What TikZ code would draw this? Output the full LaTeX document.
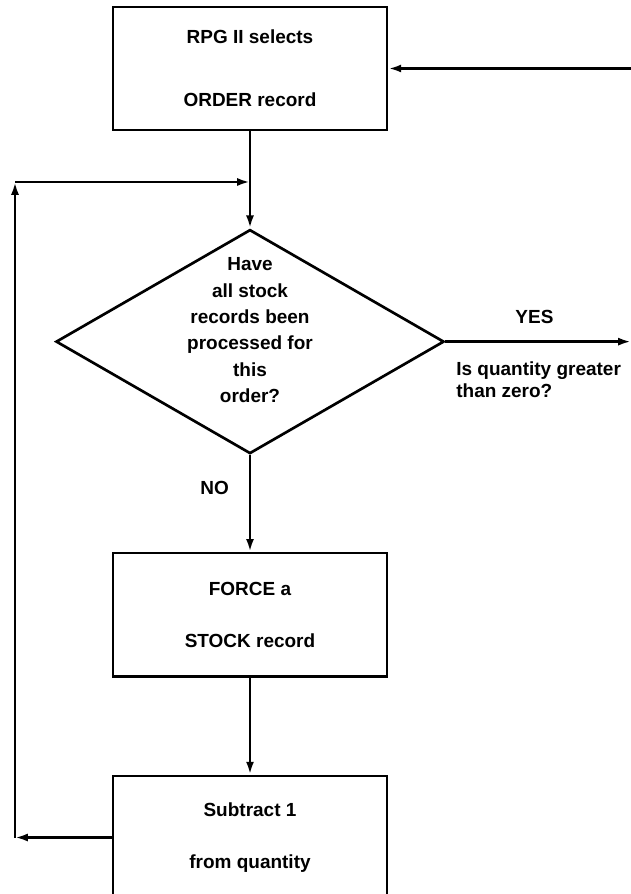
\documentclass[tikz,border=0pt]{standalone}
\usepackage{fontspec}
\setmainfont{Liberation Sans}
\usetikzlibrary{arrows.meta, positioning, shapes.geometric}

\begin{document}
\begin{tikzpicture}[x=0.025cm, y=0.025cm,
    block/.style={draw, line width=1.9pt, minimum width=6.85cm, minimum height=3.08cm, align=center, font=\fontsize{13.5}{15.5}\selectfont\bfseries},
    decision/.style={draw, diamond, shape aspect=1.73, line width=1.9pt, minimum width=9.7cm, minimum height=5.6cm, inner sep=0pt, font=\fontsize{13.5}{18.7}\selectfont\bfseries},
    arrow/.style={-{Latex[length=3.2mm, width=2mm]}, line width=1.9pt},
    lbl/.style={font=\fontsize{13.5}{15.6}\selectfont\bfseries},
    node distance=2.42cm
]
    \useasboundingbox (0,0) rectangle (631,894);
    \clip (0,0) rectangle (631,894);
    \coordinate (lft) at (15,712);
    \coordinate (rgt) at (631,0);

    \node[block] (select) at (250,825.5) {RPG II selects\\[29pt]ORDER record};
    \node[decision, below=of select] (done) {\smash{\raisebox{3.7pt}{\begin{tabular}{@{}c@{}}Have\\all stock\\records been\\processed for\\this\\order?\end{tabular}}}};
    \node[block, below=of done] (force) {FORCE a\\[21.5pt]STOCK record};
    \node[block, below=of force] (subtract) {Subtract 1\\[21.5pt]from quantity};

    \coordinate (ret) at (select.east -| rgt);
    \coordinate (yes) at (done.east -| rgt);
    \coordinate (back) at (subtract.west -| lft);
    \coordinate (join) at (select.south |- lft);

    \draw[arrow] (ret) -- (select.east);
    \draw[arrow] (select) -- (done);
    \draw[arrow] (done.east) -- node[lbl, pos=0.48, above=0.3cm] (yeslbl) {YES} (yes);
    \node[lbl, align=left, below right=0.37cm and 0.15cm of done.east] (question) {Is quantity greater\\than zero?};
    \draw[arrow] (done) -- node[lbl, pos=0.34, left=0.38cm] (nolbl) {NO} (force);
    \draw[arrow] (force) -- (subtract);
    \draw[arrow] (subtract.west) -- (back);
    \draw[arrow] (back) -- (lft);
    \draw[arrow] (lft) -- (join);
\end{tikzpicture}
\end{document}
